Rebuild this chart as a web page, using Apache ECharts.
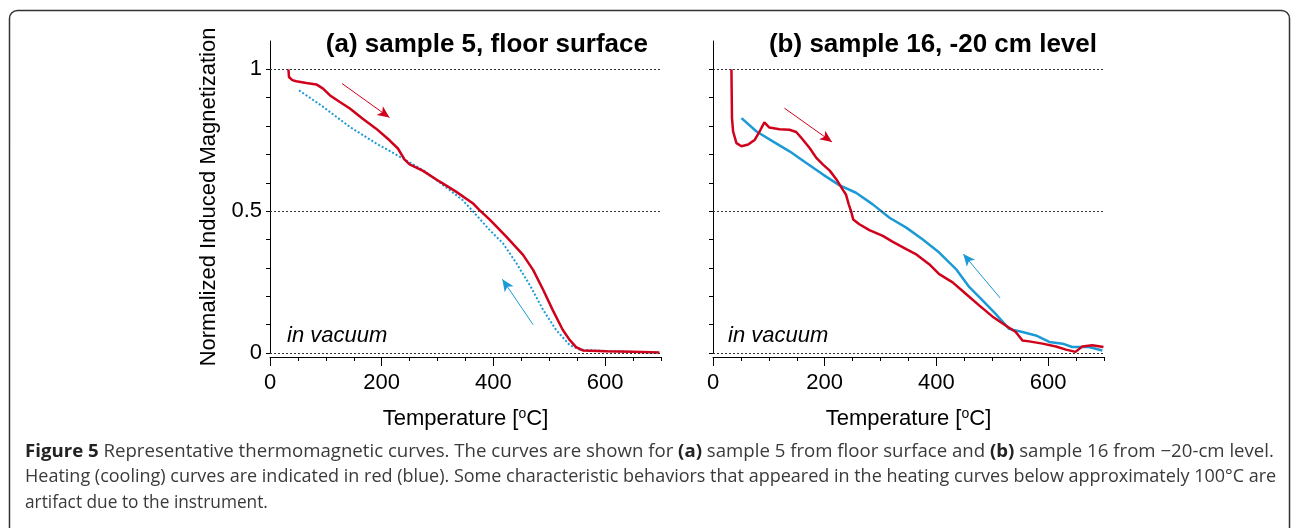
<!DOCTYPE html>
<html><head><meta charset="utf-8">
<script src="https://cdn.jsdelivr.net/npm/echarts@6/dist/echarts.min.js"></script>
<style>html,body{margin:0;padding:0;background:#fff}#c{width:1292px;height:528px}</style>
</head><body><div id="c"></div>
<script>
// ---------- data (temperature °C, normalized magnetization) ----------
const heatA = [[33,1.0],[34,0.973],[40,0.962],[47,0.958],[65,0.952],[83,0.947],[95,0.932],[107,0.909],[125,0.885],[143,0.862],[166,0.826],[190,0.791],[214,0.750],[229,0.721],[241,0.682],[250,0.665],[274,0.642],[304,0.604],[333,0.569],[363,0.528],[375,0.504],[393,0.471],[423,0.410],[453,0.346],[471,0.293],[489,0.223],[506,0.152],[524,0.082],[536,0.047],[548,0.021],[560,0.009],[602,0.006],[650,0.004],[697,0.002]];
const coolA = [[52,0.926],[95,0.868],[143,0.797],[190,0.739],[238,0.686],[274,0.645],[310,0.592],[345,0.539],[369,0.487],[393,0.434],[417,0.387],[441,0.317],[465,0.240],[489,0.152],[512,0.082],[536,0.029],[554,0.012],[602,0.007],[650,0.004],[697,0.0]];
const heatB = [[33,1.0],[34,0.828],[36,0.781],[42,0.740],[51,0.729],[63,0.735],[75,0.752],[85,0.787],[92,0.813],[101,0.795],[119,0.789],[137,0.787],[149,0.779],[161,0.752],[173,0.723],[185,0.688],[197,0.664],[209,0.643],[221,0.612],[232,0.577],[238,0.559],[243,0.524],[247,0.501],[251,0.471],[262,0.454],[280,0.433],[304,0.413],[322,0.392],[346,0.366],[363,0.349],[387,0.313],[405,0.278],[429,0.249],[453,0.208],[477,0.167],[500,0.129],[524,0.097],[542,0.074],[554,0.044],[566,0.041],[590,0.033],[614,0.023],[632,0.012],[649,0.004],[661,0.023],[679,0.027],[699,0.021]];
const coolB = [[51,0.828],[78,0.781],[107,0.746],[137,0.711],[167,0.670],[197,0.629],[226,0.592],[256,0.565],[286,0.524],[316,0.477],[346,0.442],[375,0.401],[405,0.354],[435,0.296],[459,0.232],[483,0.185],[506,0.138],[530,0.085],[554,0.074],[578,0.062],[602,0.039],[626,0.033],[643,0.021],[673,0.021],[697,0.009]];
// direction arrows [from, to]
const arrowHeatA = [[129,0.950],[214,0.830]];
const arrowCoolA = [[471,0.100],[416,0.260]];
const arrowHeatB = [[128,0.863],[213,0.744]];
const arrowCoolB = [[514,0.194],[448,0.349]];
// axes
const xMinorTicks = [0,50,100,150,200,250,300,350,400,450,500,550,600,650,700];
const xMajorTicks = [0,200,400,600];
const xTickLabels = ['0','200','400','600'];
const yMinorTicks = [0,0.1,0.2,0.3,0.4,0.5,0.6,0.7,0.8,0.9,1.0];
const yLabelValues = [0,0.5,1];
const yTickLabels = ['0','0.5','1'];
const refLevels = [0,0.5,1];
const panelTitles = ['(a) sample 5, floor surface','(b) sample 16, -20 cm level'];
const captionLines = [
  '{b|Figure 5} Representative thermomagnetic curves. The curves are shown for {b|(a)} sample 5 from floor surface and {b|(b)} sample 16 from \u221220-cm level.',
  'Heating (cooling) curves are indicated in red (blue). Some characteristic behaviors that appeared in the heating curves below approximately 100\u00b0C are',
  'artifact due to the instrument.'
];

// ---------- style ----------
const FONT = "'Liberation Sans', Arial, Helvetica, sans-serif";
const CAPFONT = "'Open Sans', 'Noto Sans', sans-serif";
const RED = '#d0021b', BLUE = '#1c9ad6';
const GL = [270, 713], GT = 41, GW = 391, GH = 312;

const chart = echarts.init(document.getElementById('c'), null, {renderer:'canvas'});

function yAxis(gi, labels){
  return {type:'value', gridIndex:gi, min:0, max:1.1,
    axisLine:{show:true, lineStyle:{color:'#000', width:1}},
    axisTick:{show:true, customValues:yMinorTicks, length:4, lineStyle:{color:'#000'}},
    axisLabel:{show:labels, customValues:yLabelValues, margin:8, fontSize:22, color:'#000', fontFamily:FONT,
      formatter:(v)=>{const i=yLabelValues.indexOf(v); return i>=0? yTickLabels[i] : '';}},
    splitLine:{show:false},
    name: labels ? 'Normalized Induced Magnetization' : '', nameLocation:'middle', nameGap:50,
    nameTextStyle:{fontSize:22, color:'#000', fontFamily:FONT}
  };
}
function xAxes(gi){
  return [
    {type:'value', gridIndex:gi, min:0, max:700, offset:4,
     axisLine:{show:true, onZero:false, lineStyle:{color:'#000', width:1}},
     axisTick:{show:true, customValues:xMinorTicks, length:4, lineStyle:{color:'#000'}},
     axisLabel:{show:false}, splitLine:{show:false}},
    {type:'value', gridIndex:gi, min:0, max:700, offset:4, position:'bottom',
     axisLine:{show:false, onZero:false},
     axisTick:{show:true, customValues:xMajorTicks, length:9, lineStyle:{color:'#000'}},
     axisLabel:{show:true, customValues:xMajorTicks, margin:15, fontSize:22, color:'#000', fontFamily:FONT,
       formatter:(v)=>{const i=xMajorTicks.indexOf(v); return i>=0? xTickLabels[i] : '';}},
     splitLine:{show:false},
     name:'Temperature [{s|o}C]', nameLocation:'middle', nameGap:50,
     nameTextStyle:{fontSize:22, color:'#000', fontFamily:FONT, rich:{s:{fontSize:14, verticalAlign:'top', padding:[0,0,10,0], fontFamily:FONT, color:'#000'}}}}
  ];
}
function arrowML(color, pts){
  return {silent:true, animation:false, symbol:['none','arrow'], symbolSize:[8,12],
    label:{show:false}, lineStyle:{color, width:1, type:'solid'},
    emphasis:{disabled:true},
    data:[[{coord:pts[0]},{coord:pts[1]}]]};
}
function panelSeries(gi, heat, cool, aH, aC, dottedCool){
  return [
    {type:'line', xAxisIndex:gi*2, yAxisIndex:gi, data:[], silent:true,
     markLine:{silent:true, animation:false, symbol:'none', label:{show:false},
       lineStyle:{color:'#333', width:1.2, type:[2,2]}, emphasis:{disabled:true},
       data: refLevels.map(v=>({yAxis:v}))}},
    {type:'line', xAxisIndex:gi*2, yAxisIndex:gi, data:cool, showSymbol:false, smooth:false,
     lineStyle:{color:BLUE, width: dottedCool?2:2.5, type: dottedCool?[2,2]:'solid'}, z:3,
     markLine:arrowML(BLUE, aC), animation:false},
    {type:'line', xAxisIndex:gi*2, yAxisIndex:gi, data:heat, showSymbol:false, smooth:false,
     lineStyle:{color:RED, width:2.5}, z:4,
     markLine:arrowML(RED, aH), animation:false}
  ];
}

const graphics = [
  {type:'rect', shape:{x:9.5, y:10.5, width:1280, height:560, r:8}, style:{fill:'none', stroke:'#333', lineWidth:1.5}, silent:true},
  {type:'text', x:648, y:45, style:{text:panelTitles[0], font:"bold 26px "+FONT, fill:'#000', align:'right', verticalAlign:'middle'}},
  {type:'text', x:1097, y:45, style:{text:panelTitles[1], font:"bold 26px "+FONT, fill:'#000', align:'right', verticalAlign:'middle'}},
  {type:'text', x:287, y:336, style:{text:'in vacuum', font:"italic 22px "+FONT, fill:'#000', align:'left', verticalAlign:'middle'}},
  {type:'text', x:728, y:336, style:{text:'in vacuum', font:"italic 22px "+FONT, fill:'#000', align:'left', verticalAlign:'middle'}}
];
const capY = [452, 477, 503];
const capScale = [1.035, 1.0, 0.96];
const capSize = 18;
captionLines.forEach((t,i)=>{
  graphics.push({type:'text', x:25, y:capY[i], scaleX:capScale[i], style:{text:t, fontFamily:CAPFONT, fontSize:capSize, fill:'#3a3a3a', align:'left', verticalAlign:'middle',
    rich:{b:{fontFamily:CAPFONT, fontSize:capSize, fontWeight:'bold', fill:'#222'}}}});
});

chart.setOption({
  animation:false,
  backgroundColor:'#fff',
  grid:[
    {left:GL[0], top:GT, width:GW, height:GH, containLabel:false, outerBoundsMode:'none'},
    {left:GL[1], top:GT, width:GW, height:GH, containLabel:false, outerBoundsMode:'none'}
  ],
  xAxis:[...xAxes(0), ...xAxes(1)],
  yAxis:[yAxis(0,true), yAxis(1,false)],
  series:[...panelSeries(0, heatA, coolA, arrowHeatA, arrowCoolA, true), ...panelSeries(1, heatB, coolB, arrowHeatB, arrowCoolB, false)],
  graphic:graphics
});
</script></body></html>
